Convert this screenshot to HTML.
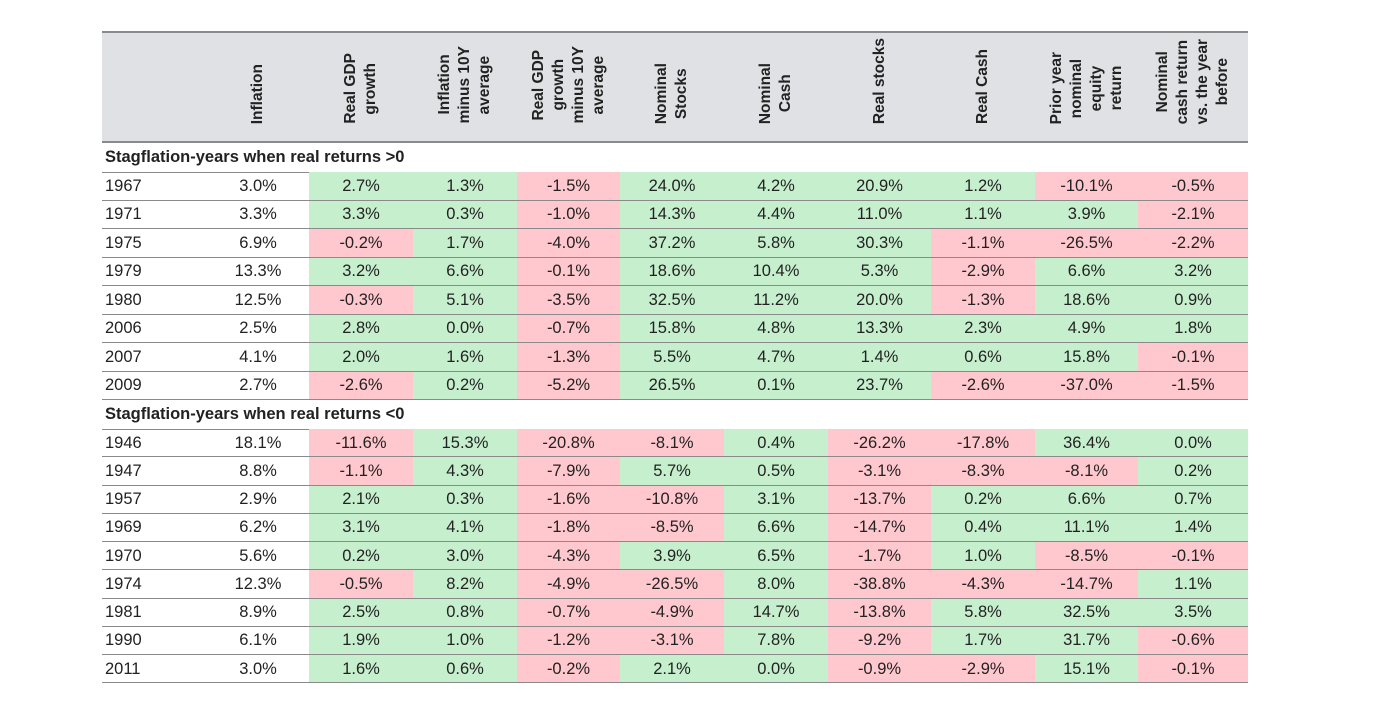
<!DOCTYPE html>
<html><head><meta charset="utf-8">
<style>
body{margin:0;width:1397px;height:706px;background:#fff;position:relative;overflow:hidden;font-family:"Liberation Sans","DejaVu Sans",sans-serif;color:#222;}
.abs{position:absolute;box-sizing:border-box;}
.cell{position:absolute;box-sizing:border-box;font-size:16.5px;display:flex;align-items:center;justify-content:center;}
.hd{position:absolute;box-sizing:border-box;display:flex;justify-content:center;align-items:flex-end;padding-bottom:19px;}
.hd div{writing-mode:vertical-rl;transform:rotate(180deg);text-align:center;font-size:15.5px;line-height:20px;font-weight:600;color:#222;}
.line{position:absolute;left:102px;width:1146px;height:1px;background:#8a8a8a;}
.sec{position:absolute;left:105px;font-size:16.5px;font-weight:bold;display:flex;align-items:center;}
</style></head><body>
<div id="root"></div>
<script>
const headers=["Inflation","Real GDP<br>growth","Inflation<br>minus 10Y<br>average","Real GDP<br>growth<br>minus 10Y<br>average","Nominal<br>Stocks","Nominal<br>Cash","Real stocks","Real Cash","Prior year<br>nominal<br>equity<br>return","Nominal<br>cash return<br>vs. the year<br>before"];
const section1Years=["1967","1971","1975","1979","1980","2006","2007","2009"];
const section1Values=[
[3.0,2.7,1.3,-1.5,24.0,4.2,20.9,1.2,-10.1,-0.5],
[3.3,3.3,0.3,-1.0,14.3,4.4,11.0,1.1,3.9,-2.1],
[6.9,-0.2,1.7,-4.0,37.2,5.8,30.3,-1.1,-26.5,-2.2],
[13.3,3.2,6.6,-0.1,18.6,10.4,5.3,-2.9,6.6,3.2],
[12.5,-0.3,5.1,-3.5,32.5,11.2,20.0,-1.3,18.6,0.9],
[2.5,2.8,0.0,-0.7,15.8,4.8,13.3,2.3,4.9,1.8],
[4.1,2.0,1.6,-1.3,5.5,4.7,1.4,0.6,15.8,-0.1],
[2.7,-2.6,0.2,-5.2,26.5,0.1,23.7,-2.6,-37.0,-1.5]];
const section2Years=["1946","1947","1957","1969","1970","1974","1981","1990","2011"];
const section2Values=[
[18.1,-11.6,15.3,-20.8,-8.1,0.4,-26.2,-17.8,36.4,0.0],
[8.8,-1.1,4.3,-7.9,5.7,0.5,-3.1,-8.3,-8.1,0.2],
[2.9,2.1,0.3,-1.6,-10.8,3.1,-13.7,0.2,6.6,0.7],
[6.2,3.1,4.1,-1.8,-8.5,6.6,-14.7,0.4,11.1,1.4],
[5.6,0.2,3.0,-4.3,3.9,6.5,-1.7,1.0,-8.5,-0.1],
[12.3,-0.5,8.2,-4.9,-26.5,8.0,-38.8,-4.3,-14.7,1.1],
[8.9,2.5,0.8,-0.7,-4.9,14.7,-13.8,5.8,32.5,3.5],
[6.1,1.9,1.0,-1.2,-3.1,7.8,-9.2,1.7,31.7,-0.6],
[3.0,1.6,0.6,-0.2,2.1,0.0,-0.9,-2.9,15.1,-0.1]];
const sectionTitles=["Stagflation-years when real returns >0","Stagflation-years when real returns <0"];
const X=[102,207,309,413,517,620,724,828,931,1035,1138,1248];
const root=document.getElementById('root');
function add(cls,css,html){const d=document.createElement('div');d.className=cls;d.style.cssText=css;if(html!==undefined)d.innerHTML=html;root.appendChild(d);return d;}
const hb=add('abs','left:102px;top:31px;width:1146px;height:112px;background:#e0e1e4;border-top:2px solid #8a8a8a;border-bottom:2px solid #8a8a8a;');


headers.forEach((h,i)=>{
  const d=add('hd',`left:${X[i+1]}px;top:31px;width:${X[i+2]-X[i+1]}px;height:112px;`,`<div>${h}</div>`);
  
  
});
function fmt(v){return v.toFixed(1)+'%';}
function section(title,years,vals,top,rh){
  const s=add('sec',`top:${top}px;height:29px;`,title);
  
  
  let y=top+29;
  const l0=add('line',`top:${y}px;`);
  
  
  years.forEach((yr,r)=>{
    const ty=y+r*rh;
    const yc=add('cell',`left:105px;top:${ty}px;width:100px;height:${rh}px;justify-content:flex-start;`,yr);
    
    
    vals[r].forEach((v,c)=>{
      let bg='transparent';
      if(c>0) bg=v>=0?'#c6efce':'#ffc7ce';
      const d=add('cell',`left:${X[c+1]}px;top:${ty}px;width:${X[c+2]-X[c+1]}px;height:${rh}px;background:${bg};`,fmt(v));
      
      
    });
    const l=add('line',`top:${ty+rh-1}px;`);
    
    
  });
}
section(sectionTitles[0],section1Years,section1Values,143,28.5);
section(sectionTitles[1],section2Years,section2Values,400,28.25);
</script>
</body></html>
